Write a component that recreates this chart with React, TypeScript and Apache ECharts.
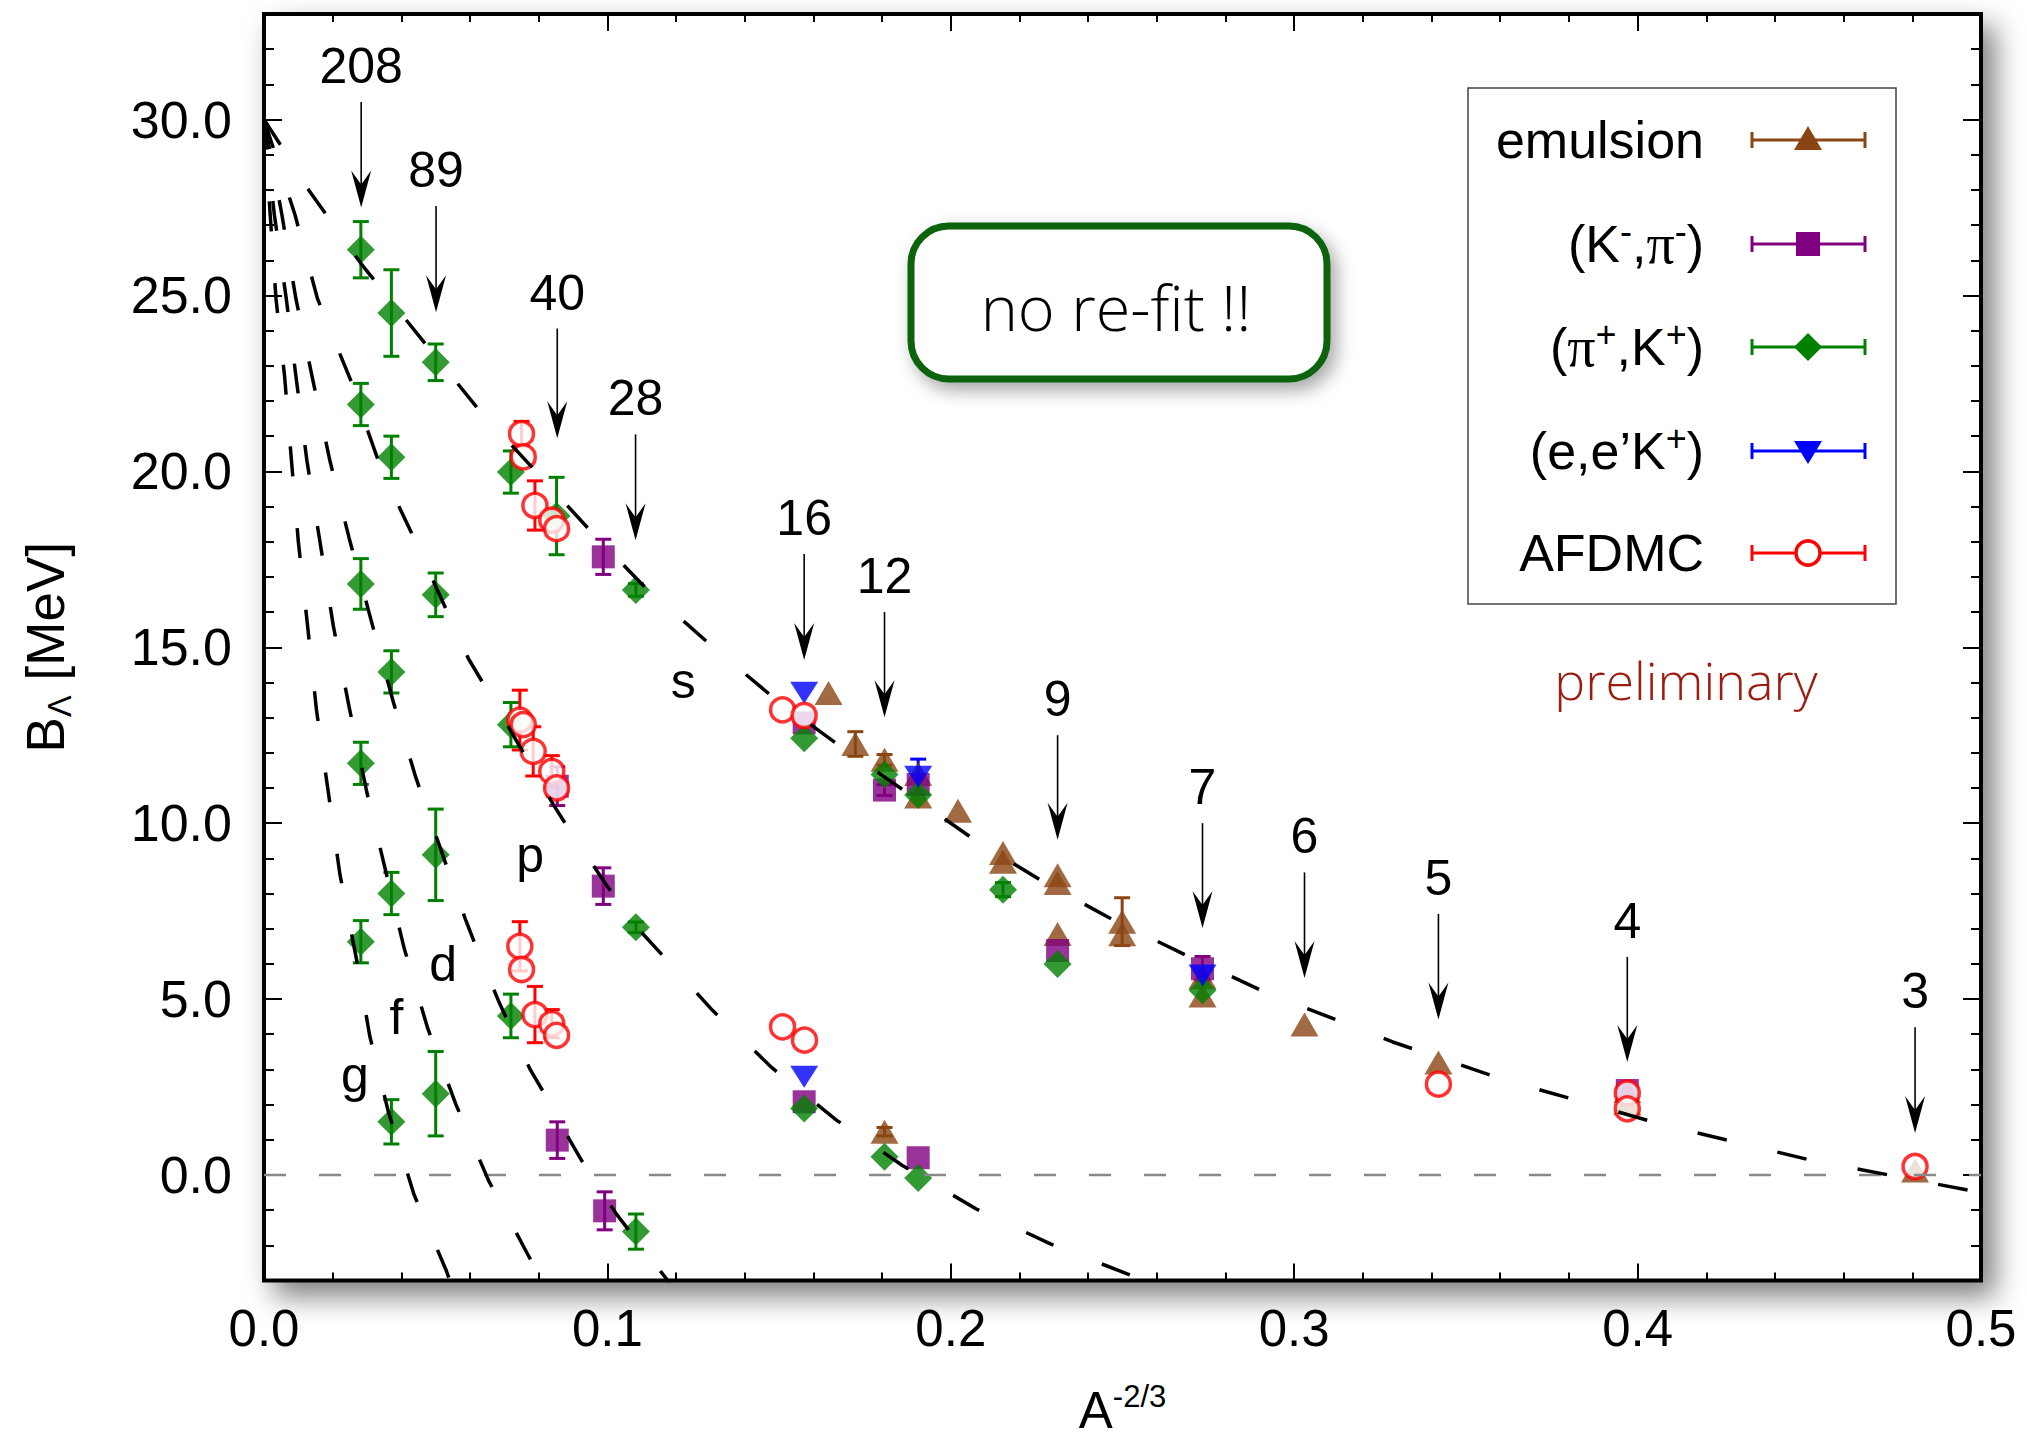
import React, { useEffect, useRef } from 'react';
import * as echarts from 'echarts';

const FONT = '"Liberation Sans", Arial, Helvetica, sans-serif';
const LIGHT = '"Open Sans", "Liberation Sans", sans-serif';
const SERIF = '"Liberation Serif", "DejaVu Serif", serif';

// ---------- axis ticks ----------
const yTickValues = [0, 5, 10, 15, 20, 25, 30];

// ---------- emulsion ----------
const emulsionX = [0.1644, 0.1722, 0.1807, 0.1807, 0.1905, 0.1905, 0.2021, 0.2152, 0.2152, 0.2311, 0.2311, 0.2311, 0.2499, 0.2499, 0.2733, 0.2733, 0.303, 0.342, 0.397, 0.397, 0.4808];
const emulsionB = [13.7, 12.25, 11.8, 1.23, 11.4, 10.76, 10.35, 9.15, 8.9, 8.52, 8.3, 6.85, 7.2, 6.84, 5.62, 5.1, 4.28, 3.2, 2.04, 2.39, 0.13];
const emulsionErr = [0, 0.35, 0.15, 0.12, 0, 0, 0, 0, 0, 0, 0, 0, 0.68, 0, 0, 0, 0, 0, 0, 0, 0];

// ---------- (K-,pi-) ----------
const kpiX = [0.0988, 0.0988, 0.0992, 0.0854, 0.0854, 0.1573, 0.1573, 0.1807, 0.1905, 0.1905, 0.2311, 0.2733, 0.397];
const kpiB = [17.57, 8.21, -1.02, 11.05, 0.99, 12.85, 2.08, 10.94, 11.1, 0.49, 6.38, 5.86, 2.4];
const kpiErr = [0.5, 0.52, 0.54, 0.55, 0.52, 0, 0, 0.15, 0, 0, 0, 0.35, 0];

// ---------- (pi+,K+) ----------
const pikX = [0.0282, 0.0282, 0.0282, 0.0282, 0.0282, 0.0371, 0.0371, 0.0371, 0.0371, 0.0371, 0.05, 0.05, 0.05, 0.05, 0.0719, 0.0719, 0.0719, 0.0852, 0.1083, 0.1083, 0.1083, 0.1573, 0.1573, 0.1807, 0.1807, 0.1905, 0.1905, 0.2152, 0.2311, 0.2733];
const pikB = [26.3, 21.9, 16.8, 11.7, 6.63, 24.5, 20.4, 14.3, 8.0, 1.51, 23.1, 16.49, 9.1, 2.31, 19.98, 12.8, 4.52, 18.73, 16.63, 7.04, -1.61, 12.41, 1.89, 11.38, 0.52, 10.8, -0.09, 8.11, 6.0, 5.25];
const pikErr = [0.8, 0.6, 0.72, 0.6, 0.6, 1.23, 0.6, 0.6, 0.6, 0.63, 0.52, 0.62, 1.3, 1.2, 0.6, 0.63, 0.62, 1.1, 0.18, 0.15, 0.5, 0, 0, 0, 0, 0, 0, 0.2, 0, 0];

// ---------- (e,e'K+) ----------
const eekX = [0.1573, 0.1573, 0.1905, 0.2733];
const eekB = [13.71, 2.79, 11.32, 5.67];
const eekErr = [0, 0, 0.5, 0];

// ---------- AFDMC ----------
const afdmcX = [0.075, 0.0755, 0.0789, 0.0838, 0.0852, 0.0745, 0.0755, 0.0784, 0.0838, 0.0852, 0.0745, 0.075, 0.0789, 0.0838, 0.0852, 0.151, 0.1573, 0.151, 0.1574, 0.342, 0.397, 0.397, 0.4808];
const afdmcB = [21.07, 20.41, 19.03, 18.61, 18.37, 12.93, 12.8, 12.04, 11.47, 11.0, 6.5, 5.84, 4.56, 4.3, 3.97, 13.22, 13.06, 4.21, 3.83, 2.58, 2.33, 1.88, 0.24];
const afdmcErr = [0.35, 0, 0.7, 0.3, 0, 0.85, 0, 0.7, 0.45, 0, 0.7, 0, 0.8, 0.4, 0, 0, 0, 0, 0, 0, 0, 0, 0];

// ---------- single-particle curves ----------
const sCurve = [[0, 30], [0.005, 29.25], [0.013, 28.0], [0.0283, 25.9], [0.048, 23.5], [0.063, 21.7], [0.0787, 20.05], [0.0956, 18.25], [0.1105, 16.75], [0.13, 15.07], [0.148, 13.6], [0.1676, 12.2], [0.1897, 10.7], [0.2073, 9.5], [0.2275, 8.3], [0.2477, 7.23], [0.2697, 6.19], [0.2925, 5.15], [0.3152, 4.3], [0.3287, 3.78], [0.361, 2.71], [0.407, 1.44], [0.45, 0.43], [0.5, -0.5]];
const pCurve = [[0, 30], [0.009, 27.3], [0.0156, 24.9], [0.0221, 23.34], [0.0255, 22.53], [0.0304, 21.1], [0.0333, 20.3], [0.0396, 18.94], [0.0435, 18.14], [0.0595, 14.68], [0.0644, 13.88], [0.0843, 10.52], [0.0886, 9.86], [0.1, 8.2], [0.1085, 7.05], [0.1176, 6.08], [0.1306, 4.68], [0.1479, 3.05], [0.1667, 1.56], [0.1859, 0.27], [0.2073, -0.96], [0.229, -1.96], [0.255, -2.95], [0.26, -3.15]];
const dCurve = [[0, 30], [0.0052, 27.3], [0.0093, 24.9], [0.0141, 22.65], [0.0192, 20.3], [0.0248, 18.1], [0.0311, 15.8], [0.0377, 13.43], [0.0442, 11.3], [0.0537, 8.63], [0.0585, 7.31], [0.0619, 6.45], [0.0685, 4.9], [0.0775, 3.0], [0.0822, 2.22], [0.089, 1.0], [0.0943, 0.11], [0.1027, -1.12], [0.117, -2.93], [0.119, -3.2]];
const fCurve = [[0, 30], [0.003, 27.3], [0.0065, 24.9], [0.0093, 22.7], [0.0125, 20.3], [0.0163, 18.0], [0.0202, 15.6], [0.0248, 13.3], [0.0299, 10.9], [0.0348, 8.9], [0.0408, 6.45], [0.0476, 4.19], [0.0559, 2.0], [0.0654, -0.16], [0.0767, -2.24], [0.081, -3.0], [0.082, -3.2]];
const gCurve = [[0, 30], [0.0018, 27.3], [0.0035, 24.9], [0.006, 22.7], [0.008, 20.3], [0.01, 18.0], [0.0127, 15.6], [0.0153, 13.2], [0.0187, 10.9], [0.0221, 8.55], [0.027, 6.1], [0.0308, 3.95], [0.0362, 1.8], [0.0437, -0.56], [0.053, -2.7], [0.0545, -3.1]];
const zeroLine = [[0, 0], [0.5, 0]];

// ---------- curve labels ----------
const curveLabelNames = ['s', 'p', 'd', 'f', 'g'];
const curveLabelX = [0.1221, 0.0775, 0.0522, 0.0386, 0.0265];
const curveLabelY = [14.05, 9.1, 6.0, 4.5, 2.85];

// ---------- mass-number arrows ----------
const massLabels = ['208', '89', '40', '28', '16', '12', '9', '7', '6', '5', '4', '3'];
const arrowX = [0.0283, 0.0501, 0.0854, 0.1082, 0.1573, 0.1807, 0.2311, 0.2733, 0.303, 0.342, 0.397, 0.4808];
const arrowTip = [27.5, 24.52, 20.94, 18.04, 14.64, 13.01, 9.53, 7.02, 5.6, 4.42, 3.21, 1.19];
const arrowTop = [30.5, 27.54, 24.06, 21.05, 17.65, 16.0, 12.5, 10.0, 8.6, 7.42, 6.2, 4.2];

const GREEN = '#008000';
const PURPLE = '#800080';
const BROWN = '#8B4513';
const BLUE = '#0000FF';
const RED = '#FF0000';

function errorBars(xs: number[], ys: number[], es: number[], color: string): any {
  const data = xs.map((x, i) => [x, ys[i], es[i]]).filter((d) => d[2] > 0);
  return {
    type: 'custom',
    silent: true,
    data,
    encode: { x: 0, y: 1 },
    renderItem: (_p: any, api: any) => {
      const x = api.value(0);
      const y = api.value(1);
      const e = api.value(2);
      const hi = api.coord([x, y + e]);
      const lo = api.coord([x, y - e]);
      const hw = 8;
      const st = { stroke: color, lineWidth: 3 };
      return {
        type: 'group',
        children: [
          { type: 'line', shape: { x1: hi[0], y1: hi[1], x2: lo[0], y2: lo[1] }, style: st },
          { type: 'line', shape: { x1: hi[0] - hw, y1: hi[1], x2: hi[0] + hw, y2: hi[1] }, style: st },
          { type: 'line', shape: { x1: lo[0] - hw, y1: lo[1], x2: lo[0] + hw, y2: lo[1] }, style: st },
        ],
      };
    },
  };
}

function markers(xs: number[], ys: number[], symbol: string, size: any, itemStyle: any, rotate = 0): any {
  return {
    type: 'scatter',
    silent: true,
    symbol,
    symbolSize: size,
    symbolRotate: rotate,
    itemStyle,
    data: xs.map((x, i) => [x, ys[i]]),
  };
}

function curve(pts: number[][]): any {
  return {
    type: 'line',
    silent: true,
    data: pts,
    showSymbol: false,
    symbol: 'none',
    smooth: false,
    lineStyle: { color: '#000', width: 3.5, type: [30, 52] },
  };
}

const tickStyle = { color: '#000', width: 2 };

function buildLegend(): any[] {
  const rows = [
    { text: 'emulsion', color: BROWN, shape: 'tri' },
    { text: '(K{sup|-},{pi|π}{sup|-})', color: PURPLE, shape: 'sq' },
    { text: '({pi|π}{sup|+},K{sup|+})', color: GREEN, shape: 'dia' },
    { text: '(e,e\u2019K{sup|+})', color: BLUE, shape: 'dtri' },
    { text: 'AFDMC', color: RED, shape: 'circ' },
  ];
  const rowY = [140, 244, 347, 451, 553];
  const els: any[] = [
    { type: 'rect', z: 100, shape: { x: 1468, y: 88, width: 428, height: 516 }, style: { fill: '#fff', stroke: '#444', lineWidth: 1.5 } },
  ];
  rows.forEach((r, i) => {
    const y = rowY[i];
    const cx = 1808;
    els.push({
      type: 'text', z: 101, x: 1704, y,
      style: {
        text: r.text, fill: '#000', fontSize: 52, fontFamily: FONT, lineHeight: 62,
        align: 'right', verticalAlign: 'middle',
        rich: {
          sup: { fontSize: 36, fontFamily: FONT, lineHeight: 30, verticalAlign: 'top', fill: '#000' },
          pi: { fontSize: 56, fontFamily: SERIF, lineHeight: 62, fill: '#000' },
        },
      },
    });
    const ls = { stroke: r.color, lineWidth: 3 };
    els.push({ type: 'line', z: 101, shape: { x1: 1752, y1: y, x2: 1865, y2: y }, style: ls });
    els.push({ type: 'line', z: 101, shape: { x1: 1752, y1: y - 8, x2: 1752, y2: y + 8 }, style: ls });
    els.push({ type: 'line', z: 101, shape: { x1: 1865, y1: y - 8, x2: 1865, y2: y + 8 }, style: ls });
    if (r.shape === 'tri') {
      els.push({ type: 'polygon', z: 102, shape: { points: [[cx, y - 14], [cx + 14, y + 10], [cx - 14, y + 10]] }, style: { fill: r.color } });
    } else if (r.shape === 'sq') {
      els.push({ type: 'rect', z: 102, shape: { x: cx - 12, y: y - 12, width: 24, height: 24 }, style: { fill: r.color } });
    } else if (r.shape === 'dia') {
      els.push({ type: 'polygon', z: 102, shape: { points: [[cx, y - 14], [cx + 14, y], [cx, y + 14], [cx - 14, y]] }, style: { fill: r.color } });
    } else if (r.shape === 'dtri') {
      els.push({ type: 'polygon', z: 102, shape: { points: [[cx - 14, y - 10], [cx + 14, y - 10], [cx, y + 13]] }, style: { fill: r.color } });
    } else {
      els.push({ type: 'circle', z: 102, shape: { cx, cy: y, r: 12 }, style: { fill: '#fff', stroke: r.color, lineWidth: 3.5 } });
    }
  });
  els.push({
    type: 'text', z: 101, x: 1686, y: 679,
    style: { text: 'preliminary', fill: '#9b1c10', fontSize: 52, fontFamily: LIGHT, fontWeight: 300, align: 'center', verticalAlign: 'middle' },
  });
  els.push({
    type: 'rect', z: 100,
    shape: { x: 911, y: 226, width: 416, height: 153, r: 38 },
    style: { fill: '#fff', stroke: '#0a640a', lineWidth: 7, shadowBlur: 18, shadowColor: 'rgba(0,0,0,0.35)', shadowOffsetX: 6, shadowOffsetY: 8 },
  });
  els.push({
    type: 'text', z: 101, x: 1116, y: 306,
    style: { text: 'no re-fit !!', fill: '#000', fontSize: 63, fontFamily: LIGHT, fontWeight: 300, align: 'center', verticalAlign: 'middle' },
  });
  return els;
}

function buildOption(): any {
  const xCommon = {
    type: 'value', min: 0, max: 0.5, interval: 0.1,
    axisLine: { show: false, onZero: false }, splitLine: { show: false },
    axisTick: { show: true, inside: true, length: 17, lineStyle: tickStyle },
    minorTick: { show: true, splitNumber: 5, length: 8, lineStyle: tickStyle },
  };
  const yMajor = {
    type: 'value', min: -3, max: 33,
    axisLine: { show: false, onZero: false }, splitLine: { show: false },
    axisTick: { show: true, inside: true, length: 18, lineStyle: tickStyle, customValues: yTickValues },
  };
  const yMinor = {
    type: 'value', min: -3, max: 33, interval: 1,
    axisLine: { show: false, onZero: false }, splitLine: { show: false },
    axisTick: { show: true, inside: true, length: 10, lineStyle: tickStyle },
    axisLabel: { show: false },
  };
  return {
    animation: false,
    backgroundColor: '#fff',
    grid: {
      left: 264, right: 46, top: 14, bottom: 158, show: true,
      borderColor: '#000', borderWidth: 4, backgroundColor: '#fff',
      shadowBlur: 28, shadowColor: 'rgba(0,0,0,0.5)', shadowOffsetX: 12, shadowOffsetY: 14,
    },
    xAxis: [
      {
        ...xCommon, position: 'bottom',
        axisLabel: { formatter: (v: number) => v.toFixed(1), fontSize: 51, fontFamily: FONT, color: '#000', margin: 22 },
        name: '{a|A}{s|-2/3}', nameLocation: 'middle', nameGap: 100,
        nameTextStyle: {
          color: '#000',
          rich: {
            a: { fontSize: 51, fontFamily: FONT, lineHeight: 60, color: '#000' },
            s: { fontSize: 31, fontFamily: FONT, lineHeight: 34, verticalAlign: 'top', color: '#000' },
          },
        },
      },
      { ...xCommon, position: 'top', axisLabel: { show: false } },
    ],
    yAxis: [
      {
        ...yMajor, position: 'left',
        axisLabel: { customValues: yTickValues, formatter: (v: number) => v.toFixed(1), fontSize: 52, fontFamily: FONT, color: '#000', margin: 32 },
        name: '{a|B}{sub|\u039B}{a| [MeV]}', nameLocation: 'middle', nameGap: 188,
        nameTextStyle: {
          color: '#000',
          rich: {
            a: { fontSize: 53, fontFamily: FONT, lineHeight: 62, color: '#000' },
            sub: { fontSize: 33, fontFamily: FONT, lineHeight: 34, verticalAlign: 'bottom', color: '#000' },
          },
        },
      },
      { ...yMinor, position: 'left' },
      { ...yMajor, position: 'right', axisLabel: { show: false } },
      { ...yMinor, position: 'right' },
    ],
    series: [
      {
        type: 'line', silent: true, data: zeroLine, showSymbol: false, symbol: 'none',
        lineStyle: { color: '#888', width: 2.5, type: [22, 33] },
      },
      curve(sCurve), curve(pCurve), curve(dCurve), curve(fCurve), curve(gCurve),
      errorBars(emulsionX, emulsionB, emulsionErr, BROWN),
      markers(emulsionX, emulsionB, 'triangle', [28, 24], { color: BROWN }),
      errorBars(kpiX, kpiB, kpiErr, PURPLE),
      markers(kpiX, kpiB, 'rect', 23, { color: PURPLE }),
      errorBars(pikX, pikB, pikErr, GREEN),
      markers(pikX, pikB, 'diamond', 28, { color: GREEN }),
      errorBars(eekX, eekB, eekErr, BLUE),
      markers(eekX, eekB, 'triangle', [28, 22], { color: BLUE }, 180),
      errorBars(afdmcX, afdmcB, afdmcErr, RED),
      markers(afdmcX, afdmcB, 'circle', 24, { color: '#fff', borderColor: RED, borderWidth: 3.5 }),
      {
        type: 'custom', silent: true,
        data: arrowX.map((x, i) => [x, arrowTip[i], arrowTop[i]]),
        encode: { x: 0, y: 1 },
        renderItem: (params: any, api: any) => {
          const x = api.value(0);
          const tip = api.coord([x, api.value(1)]);
          const top = api.coord([x, api.value(2)]);
          const headLen = 37;
          const headW = 10;
          const notch = 23;
          return {
            type: 'group',
            children: [
              { type: 'line', shape: { x1: top[0], y1: top[1], x2: tip[0], y2: tip[1] - notch + 2 }, style: { stroke: '#000', lineWidth: 1.6 } },
              { type: 'polygon', shape: { points: [[tip[0], tip[1]], [tip[0] - headW, tip[1] - headLen], [tip[0], tip[1] - notch], [tip[0] + headW, tip[1] - headLen]] }, style: { fill: '#000' } },
              { type: 'text', x: top[0], y: top[1] - 36, style: { text: massLabels[params.dataIndex], fill: '#000', fontSize: 50, fontFamily: FONT, align: 'center', verticalAlign: 'middle' } },
            ],
          };
        },
      },
      {
        type: 'custom', silent: true,
        data: curveLabelX.map((x, i) => [x, curveLabelY[i]]),
        encode: { x: 0, y: 1 },
        renderItem: (params: any, api: any) => {
          const p = api.coord([api.value(0), api.value(1)]);
          return { type: 'text', x: p[0], y: p[1], style: { text: curveLabelNames[params.dataIndex], fill: '#000', fontSize: 50, fontFamily: FONT, align: 'center', verticalAlign: 'middle' } };
        },
      },
    ],
    graphic: buildLegend(),
  };
}

export default function App() {
  const ref = useRef<HTMLDivElement>(null);
  useEffect(() => {
    if (!ref.current) return;
    const chart = echarts.init(ref.current, null, { renderer: 'svg' });
    chart.setOption(buildOption());
    return () => chart.dispose();
  }, []);
  return <div ref={ref} style={{ position: 'fixed', left: 0, top: 0, width: 2027, height: 1441, background: '#fff' }} />;
}
